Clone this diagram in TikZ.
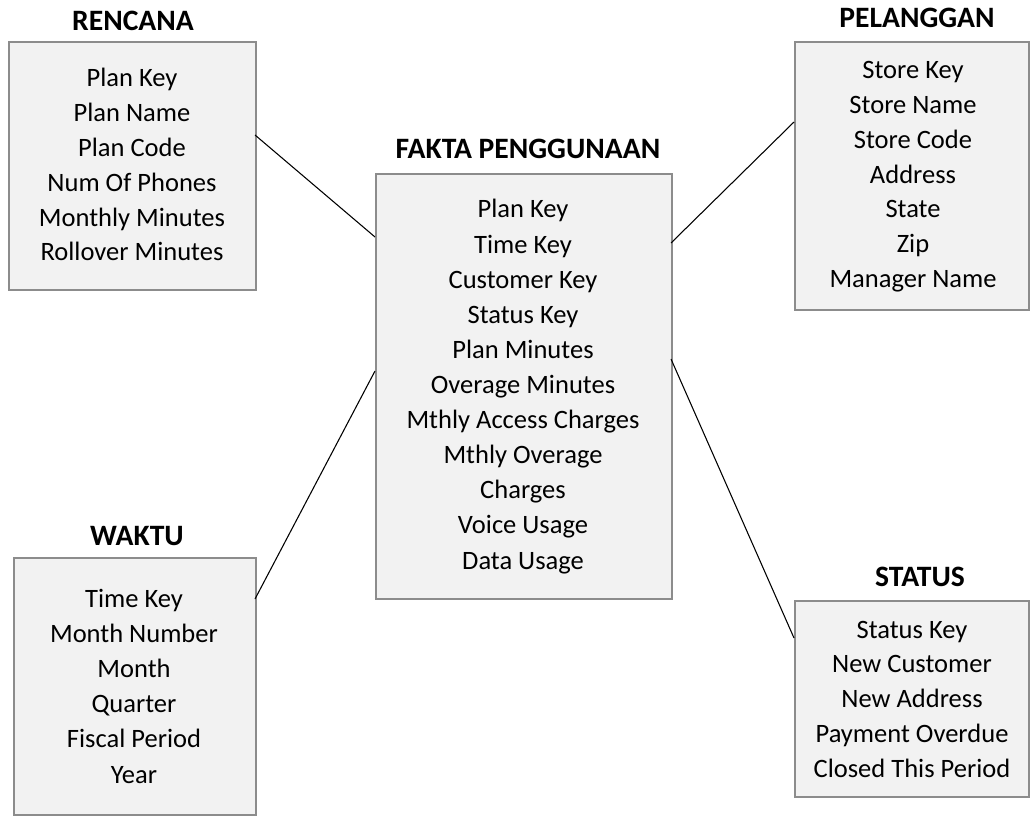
\documentclass[tikz,border=0pt]{standalone}
\usepackage{fontspec}
\setmainfont{Carlito}
\definecolor{boxgray}{HTML}{8C8C8C}
\definecolor{boxfill}{HTML}{F2F2F2}
\begin{document}
\begin{tikzpicture}[x=0.75pt,y=-0.75pt,
  tbl/.style={draw=boxgray, line width=1.6pt, fill=boxfill, anchor=north west, inner sep=0pt},
  item/.style={anchor=base, inner sep=0pt, font=\fontsize{19.9}{24}\selectfont},
  ttl/.style={anchor=base, inner sep=0pt, font=\fontsize{22.2}{26}\selectfont\bfseries},
  link/.style={draw=black, line width=0.8pt}]
\useasboundingbox (0,0) rectangle (1030,816);

% boxes
\node[tbl, minimum width=185.25pt, minimum height=186pt] (ren) at (8,41) {};
\node[tbl, minimum width=222pt, minimum height=318.75pt] (fak) at (375,173) {};
\node[tbl, minimum width=175.5pt, minimum height=201pt] (pel) at (794,41) {};
\node[tbl, minimum width=181.5pt, minimum height=192.75pt] (wak) at (13,557) {};
\node[tbl, minimum width=175.5pt, minimum height=147pt] (sta) at (794,600) {};

% titles
\node[ttl] (renT) at (133,31) {RENCANA};
\node[ttl] (fakT) at (528,159) {FAKTA PENGGUNAAN};
\node[ttl] (pelT) at (917,28) {PELANGGAN};
\node[ttl] (wakT) at (137,545) {WAKTU};
\node[ttl] (staT) at (920,586) {STATUS};

% contents
\foreach \t [count=\i from 0] in {Plan Key, Plan Name, Plan Code, Num Of Phones, Monthly Minutes, Rollover Minutes}
  \node[item] (ren\i) at (132,87+34.8*\i) {\t};
\foreach \t [count=\i from 0] in {Plan Key, Time Key, Customer Key, Status Key, Plan Minutes, Overage Minutes, Mthly Access Charges, Mthly Overage, Charges, Voice Usage, Data Usage}
  \node[item] (fak\i) at (523,218+35.1*\i) {\t};
\foreach \t [count=\i from 0] in {Store Key, Store Name, Store Code, Address, State, Zip, Manager Name}
  \node[item] (pel\i) at (913,79+34.7*\i) {\t};
\foreach \t [count=\i from 0] in {Time Key, Month Number, Month, Quarter, Fiscal Period, Year}
  \node[item] (wak\i) at (134,607+35.2*\i) {\t};
\foreach \t [count=\i from 0] in {Status Key, New Customer, New Address, Payment Overdue, Closed This Period}
  \node[item] (sta\i) at (912,638+34.75*\i) {\t};

% connector end points on box borders
\coordinate (renR) at (255,135);
\coordinate (fakL1) at (375,237);
\coordinate (fakL2) at (375,371);
\coordinate (fakR1) at (671,243);
\coordinate (fakR2) at (671,359);
\coordinate (pelL) at (794,122);
\coordinate (wakR) at (255,599);
\coordinate (staL) at (794,638);

\draw[link] (renR) -- (fakL1);
\draw[link] (fakR1) -- (pelL);
\draw[link] (wakR) -- (fakL2);
\draw[link] (fakR2) -- (staL);
\end{tikzpicture}
\end{document}
